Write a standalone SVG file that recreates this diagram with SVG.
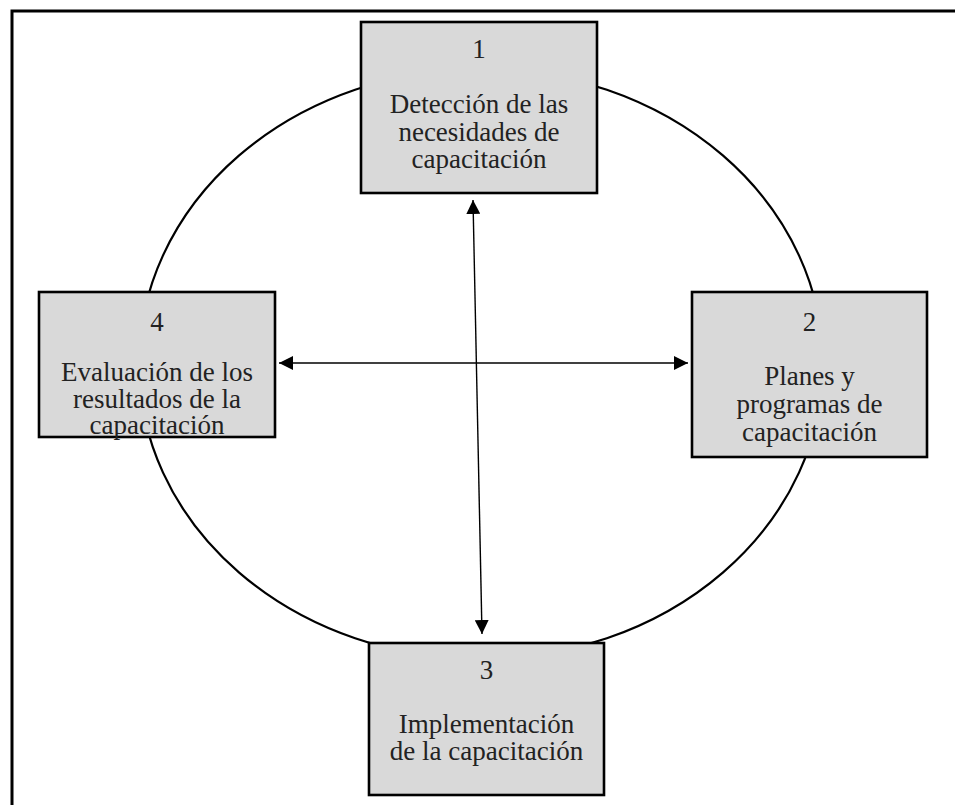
<svg xmlns="http://www.w3.org/2000/svg" width="955" height="805" viewBox="0 0 955 805">
<defs>
<style>
.box{fill:#d9d9d9;stroke:#000;stroke-width:2.6}
.t{font-family:"Liberation Serif","Times New Roman",serif;font-size:27px;fill:#222;text-anchor:middle}
.conn{stroke:#000;stroke-width:1.4;fill:none}
</style>
<marker id="ah" viewBox="0 0 10 10" refX="10" refY="5" markerWidth="14" markerHeight="14" markerUnits="userSpaceOnUse" orient="auto-start-reverse">
<path d="M0,0 L10,5 L0,10 Z" fill="#000"/>
</marker>
</defs>
<rect width="955" height="805" fill="#fff"/>
<path d="M12,805 V11 H955" fill="none" stroke="#000" stroke-width="3"/>
<ellipse cx="481" cy="364" rx="342" ry="295" fill="none" stroke="#000" stroke-width="2.2"/>
<g id="connectors">
<line class="conn" x1="473" y1="200" x2="482" y2="634" marker-start="url(#ah)" marker-end="url(#ah)"/>
<line class="conn" x1="279" y1="363" x2="688" y2="363" marker-start="url(#ah)" marker-end="url(#ah)"/>
</g>
<g id="node1">
<rect class="box" x="361" y="22" width="236" height="171"/>
<text class="t" x="479" y="58">1</text>
<text class="t" x="479" y="113">Detección de las</text>
<text class="t" x="479" y="141">necesidades de</text>
<text class="t" x="479" y="168">capacitación</text>
</g>
<g id="node2">
<rect class="box" x="692" y="292" width="235" height="165"/>
<text class="t" x="809.5" y="331">2</text>
<text class="t" x="809.5" y="385">Planes y</text>
<text class="t" x="809.5" y="413">programas de</text>
<text class="t" x="809.5" y="441">capacitación</text>
</g>
<g id="node3">
<rect class="box" x="369" y="643" width="235" height="152"/>
<text class="t" x="486.5" y="679">3</text>
<text class="t" x="486.5" y="733">Implementación</text>
<text class="t" x="486.5" y="760">de la capacitación</text>
</g>
<g id="node4">
<rect class="box" x="39" y="292" width="236" height="145"/>
<text class="t" x="157" y="331">4</text>
<text class="t" x="157" y="381">Evaluación de los</text>
<text class="t" x="157" y="408">resultados de la</text>
<text class="t" x="157" y="434">capacitación</text>
</g>
</svg>
